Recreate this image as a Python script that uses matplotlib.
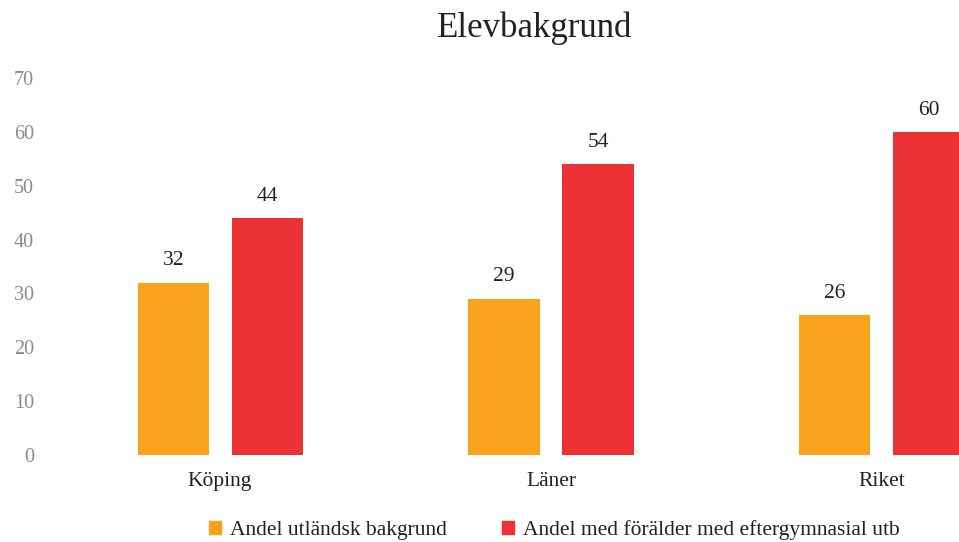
import numpy as np
import matplotlib.pyplot as plt
from matplotlib.patches import Patch

categories = ["Köping", "Läner", "Riket"]
utlandsk = [32, 29, 26]
eftergymn = [44, 54, 60]
series_names = ["Andel utländsk bakgrund", "Andel med förälder med eftergymnasial utb"]
yticks = [0, 10, 20, 30, 40, 50, 60, 70]

orange = "#F9A21C"
red = "#EC3234"

plt.rcParams["font.family"] = ["Liberation Serif", "DejaVu Serif"]

fig = plt.figure(figsize=(9.59, 5.42), dpi=100)
ax = fig.add_axes([0.047, 0.1605, 0.953, 0.6955])

x = np.arange(len(categories))
w = 0.215
off = 0.142
b1 = ax.bar(x - off, utlandsk, w, color=orange)
b2 = ax.bar(x + off, eftergymn, w, color=red)

for bars in (b1, b2):
    for b in bars:
        ax.text(b.get_x() + b.get_width() / 2, b.get_height() + 2.3,
                f"{b.get_height():.0f}", ha="center", va="bottom",
                fontsize=15.5, color="#222222")

ax.set_xlim(-0.529, 2.233)
ax.set_ylim(0, 70)
ax.set_yticks(yticks)
ax.set_yticklabels([str(t) for t in yticks], color="#8a8a8a", fontsize=14.5)
ax.set_xticks(x)
ax.set_xticklabels(categories, fontsize=15.5, color="#222222")
ax.tick_params(axis="both", length=0)
ax.tick_params(axis="x", pad=12)
ax.tick_params(axis="y", pad=8)
for s in ax.spines.values():
    s.set_visible(False)

fig.text(0.558, 0.948, "Elevbakgrund", ha="center", va="center",
         fontsize=25, color="#222222")

handles = [Patch(color=orange), Patch(color=red)]
fig.legend(handles, series_names, loc="center", ncol=2,
           bbox_to_anchor=(0.578, 0.022), frameon=False, fontsize=15.5,
           handlelength=0.55, handleheight=0.55, handletextpad=0.4,
           columnspacing=2.6, labelcolor="#222222")

fig.savefig("out.png", dpi=100)
